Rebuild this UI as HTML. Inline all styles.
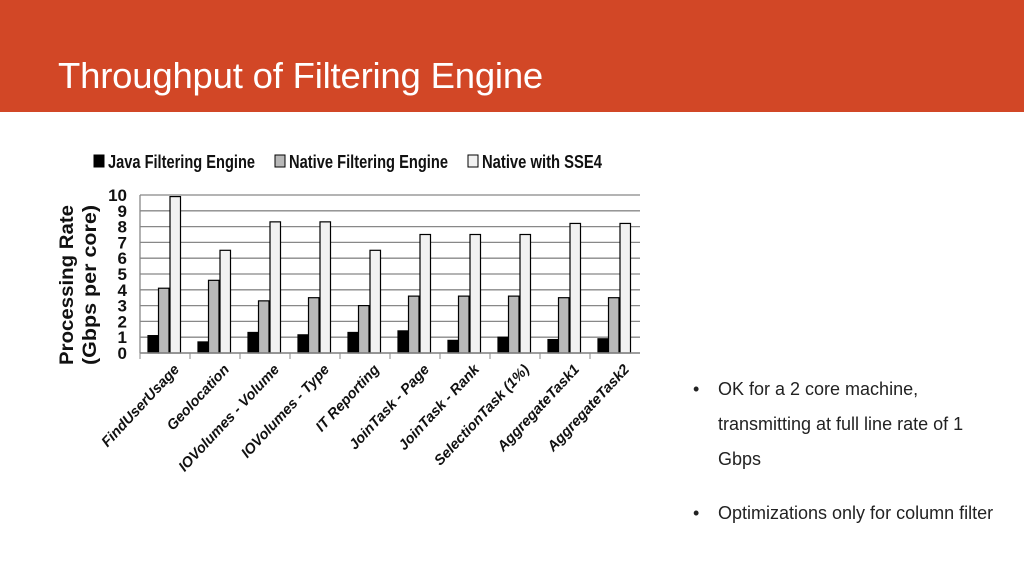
<!DOCTYPE html>
<html><head><meta charset="utf-8"><style>
body{margin:0;width:1024px;height:576px;overflow:hidden;background:#fff;font-family:"Liberation Sans",sans-serif;position:relative}
#banner{position:absolute;left:0;top:0;width:1024px;height:112px;background:#D24726}
#title{position:absolute;left:58px;top:52px;color:#fff;font-size:36.5px;line-height:48px;letter-spacing:-0.2px}
.bul{position:absolute;left:695px;font-size:18px;color:#222;line-height:35px}
.bul span{position:absolute;left:-2px}
</style></head><body>
<div id="banner"><div id="title">Throughput of Filtering Engine</div></div>
<svg id="chart" width="660" height="440" style="position:absolute;left:0;top:136px" viewBox="0 136 660 440"></svg>
<div class="bul" style="top:372px"><span>•</span><div style="margin-left:23px;width:300px">OK for a 2 core machine,<br>transmitting at full line rate of 1<br>Gbps</div></div>
<div class="bul" style="top:496px"><span>•</span><div style="margin-left:23px;width:330px;white-space:nowrap">Optimizations only for column filter</div></div>
<script>
const categories=["FindUserUsage","Geolocation","IOVolumes - Volume","IOVolumes - Type","IT Reporting","JoinTask - Page","JoinTask - Rank","SelectionTask (1%)","AggregateTask1","AggregateTask2"];
const javaVals=[1.1,0.7,1.3,1.15,1.3,1.4,0.8,1.0,0.85,0.9];
const nativeVals=[4.1,4.6,3.3,3.5,3.0,3.6,3.6,3.6,3.5,3.5];
const sseVals=[9.9,6.5,8.3,8.3,6.5,7.5,7.5,7.5,8.2,8.2];
const yTicks=[0,1,2,3,4,5,6,7,8,9,10];
const seriesNames=["Java Filtering Engine","Native Filtering Engine","Native with SSE4"];
const NS="http://www.w3.org/2000/svg";
const svg=document.getElementById('chart');
const x0=140,x1=640,yb=353,yt=195;
const y=v=>yb-(v/10)*(yb-yt);
const band=(x1-x0)/categories.length;
const xc=i=>x0+band*i;
function mk(t,a){const e=document.createElementNS(NS,t);for(const k in a)e.setAttribute(k,a[k]);svg.appendChild(e);return e;}
yTicks.forEach(t=>{
 const l=mk('line',{x1:x0,x2:x1,y1:y(t),y2:y(t),stroke:'#888','stroke-width':1.3});
 
 const tx=mk('text',{x:x0-13,y:y(t)+6,'text-anchor':'end','font-size':17,'font-weight':'bold',fill:'#111'});
 tx.textContent=t;
 
});
const ax=mk('line',{x1:x0,x2:x0,y1:yt,y2:yb,stroke:'#888','stroke-width':1.3});

const series=[javaVals,nativeVals,sseVals],fills=['#000','#b8b8b8','#f2f2f2'];
const bw=10.5;
categories.forEach((c,i)=>{
 series.forEach((s,j)=>{
  const r=mk('rect',{x:xc(i)+8+j*bw+(j==2?1:0),y:y(s[i]),width:bw,height:yb-y(s[i]),fill:fills[j],stroke:'#000','stroke-width':1.2});
  
  
 });
 const tk=mk('line',{x1:xc(i),x2:xc(i),y1:yb,y2:yb+6,stroke:'#888'});
 
 const lx=xc(i)+band*0.8,ly=yb+17;
 const t=mk('text',{x:lx,y:ly,'text-anchor':'end','font-size':14.5,'font-weight':'bold','font-style':'italic',fill:'#111',transform:`rotate(-47 ${lx} ${ly})`});
 t.textContent=c;
 
});
const bl=mk('line',{x1:x0,x2:x1,y1:yb,y2:yb,stroke:'#888','stroke-width':1.5});

const yl=mk('text',{x:0,y:0,'text-anchor':'middle','font-size':19,'font-weight':'bold',fill:'#111',transform:'translate(73,285) rotate(-90)'});
yl.innerHTML='<tspan x="0" dy="0" textLength="160" lengthAdjust="spacingAndGlyphs">Processing Rate</tspan><tspan x="0" dy="23" textLength="160" lengthAdjust="spacingAndGlyphs">(Gbps per core)</tspan>';

const lgX=[94,275,468];
const lgW=[147,159,120];
seriesNames.forEach((n,j)=>{
 const r=mk('rect',{x:lgX[j],y:155,width:10,height:12,fill:fills[j],stroke:'#000'});
 
 const t=mk('text',{x:lgX[j]+14,y:168,'font-size':18,'font-weight':'bold',fill:'#111',textLength:lgW[j],lengthAdjust:'spacingAndGlyphs'});
 t.textContent=n;
 
});
</script>
</body></html>
